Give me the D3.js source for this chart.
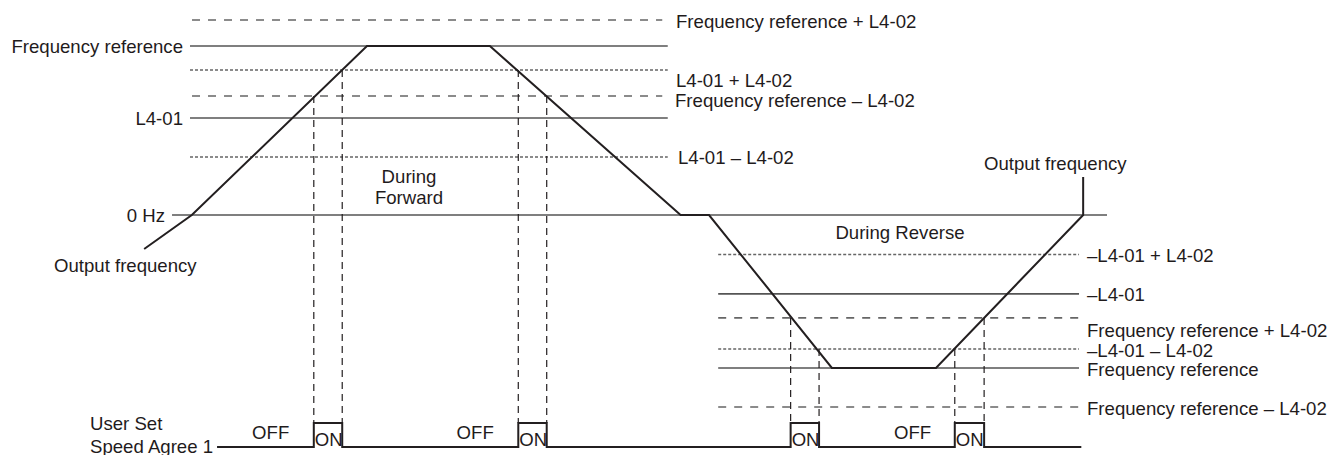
<!DOCTYPE html>
<html><head><meta charset="utf-8">
<script src="https://cdn.jsdelivr.net/npm/d3@7"></script>
<style>
body{margin:0;background:#fff}
svg{display:block;background:#fff}
text{font-family:"Liberation Sans",Arial,Helvetica,sans-serif;font-size:18.6px;fill:#1f1b1c}
</style>
</head><body>
<svg id="chart" width="1334" height="455"></svg>
<script>
// ---------------- DATA ----------------
// reference levels (value in % of forward frequency reference)
const levelKeys   = ["frPlus","fr","l1Plus","frMinus","l1","l1Minus","zero","rl1Plus","rl1","rfrPlus","rl1Minus","rfr","rfrMinus"];
const levelValues = [115.4, 100, 85.8, 70.4, 57.4, 34.3, 0, -23.4, -46.7, -60.9, -79.3, -90.5, -113.6];
const levelTexts  = ["Frequency reference + L4-02","Frequency reference","L4-01 + L4-02","Frequency reference \u2013 L4-02","L4-01","L4-01 \u2013 L4-02","0 Hz",
                     "\u2013L4-01 + L4-02","\u2013L4-01","Frequency reference + L4-02","\u2013L4-01 \u2013 L4-02","Frequency reference","Frequency reference \u2013 L4-02"];
// output frequency trace (time in % of chart span, value in %)
const outTimes  = [-5.0, 0.2, 19.3, 32.7, 53.5, 56.6, 70.0, 81.35, 97.4, 97.4];
const outValues = [-20.1, 0, 100, 100, 0, 0, -90.5, -90.5, 0, 22.5];
// User Set Speed Agree 1 ON windows
const onStart = [13.5, 35.8, 65.5, 83.4];
const onEnd   = [16.6, 38.9, 68.6, 86.6];
const onStartLevel = ["frMinus","l1Plus","rfrPlus","rl1Minus"];
const onEndLevel   = ["l1Plus","frMinus","rl1Minus","rfrPlus"];
const offTimes = [8.8, 31.1, 78.8];
const signalSpan = [2.95, 97.2];

// ---------------- LAYOUT ----------------
const svg = d3.select("#chart");
const x = d3.scaleLinear().domain([0,100]).range([190,1107]);
const y = d3.scaleLinear().domain([0,100]).range([215,46]);
const ys = d3.scaleLinear().domain([0,1]).range([447,423]);
const lv = Object.fromEntries(levelKeys.map((k,i)=>[k,levelValues[i]]));
const lt = Object.fromEntries(levelKeys.map((k,i)=>[k,levelTexts[i]]));

const styleOf = {frPlus:"dashed",fr:"solid",l1Plus:"dotted",frMinus:"dashed",l1:"solid",l1Minus:"dotted",zero:"solid",
  rl1Plus:"dotted",rl1:"solid",rfrPlus:"dashed",rl1Minus:"dotted",rfr:"solid",rfrMinus:"dashed"};
const dash = {solid:null, dashed:"8,8", dotted:"3,2"};
const fwdKeys = ["frPlus","fr","l1Plus","frMinus","l1","l1Minus"];
const extent = k => k==="zero" ? [-1.96,100] :
  fwdKeys.includes(k) ? (styleOf[k]==="dashed" ? [0.22,51.5] : [0,52.1]) : [57.6,96.95];

const gLines = svg.append("g");
levelKeys.forEach(k=>{
  const [a,b] = extent(k);
  gLines.append("line")
    .attr("x1",x(a)).attr("x2",x(b))
    .attr("y1",y(lv[k])).attr("y2",y(lv[k]))
    .attr("stroke", styleOf[k]==="solid" ? "#555" : "#666")
    .attr("stroke-width",1.6)
    .attr("stroke-dasharray",dash[styleOf[k]]);
});

// vertical dashed guides
onStart.forEach((t,i)=>{
  [[t,onStartLevel[i]],[onEnd[i],onEndLevel[i]]].forEach(([tt,k])=>{
    svg.append("line")
      .attr("x1",x(tt)).attr("x2",x(tt))
      .attr("y1",y(lv[k])).attr("y2",ys(1))
      .attr("stroke","#231f20").attr("stroke-width",1.2)
      .attr("stroke-dasharray","7,5");
  });
});

// output frequency
const pts = outTimes.map((t,i)=>[x(t),y(outValues[i])]);
svg.append("path").attr("d",d3.line()(pts))
  .attr("fill","none").attr("stroke","#231f20").attr("stroke-width",2);

// signal
const sig = [[signalSpan[0],0]];
onStart.forEach((t,i)=>{ sig.push([t,0],[t,1],[onEnd[i],1],[onEnd[i],0]); });
sig.push([signalSpan[1],0]);
svg.append("path").attr("d",d3.line().x(d=>x(d[0])).y(d=>ys(d[1]))(sig))
  .attr("fill","none").attr("stroke","#231f20").attr("stroke-width",2);
onStart.forEach(t=>{
  svg.append("text").attr("x",x(t)+1).attr("y",ys(0)-1.5).text("ON");
});
offTimes.forEach(t=>{
  svg.append("text").attr("x",x(t)).attr("y",ys(0.62)).attr("dy","0.35em").attr("text-anchor","middle").text("OFF");
});

// labels
const lab = (tx,xx,yy,anchor)=>svg.append("text").attr("x",xx).attr("y",yy).attr("dy","0.35em")
  .attr("text-anchor",anchor||"start").text(tx);
lab(lt.fr, 183, y(lv.fr), "end");
lab(lt.l1, 183, y(lv.l1), "end");
lab(lt.zero, 165, y(lv.zero), "end");
lab(lt.frPlus, 676, y(lv.frPlus)+2);
lab(lt.l1Plus, 676, y(lv.l1Plus)+10);
lab(lt.frMinus, 675, y(lv.frMinus)+4);
lab(lt.l1Minus, 678, y(lv.l1Minus));
lab(lt.rl1Plus, 1087, y(lv.rl1Plus)+1);
lab(lt.rl1, 1087, y(lv.rl1)+1);
lab(lt.rfrPlus, 1087, y(lv.rfrPlus)+13);
lab(lt.rl1Minus, 1087, y(lv.rl1Minus)+1);
lab(lt.rfr, 1087, y(lv.rfr)+2);
lab(lt.rfrMinus, 1087, y(lv.rfrMinus)+2);

lab("During", 409, 176, "middle");
lab("Forward", 409, 197, "middle");
lab("During Reverse", 900, 232, "middle");
lab("Output frequency", 54, 265);
lab("Output frequency", 984, 163);
lab("User Set", 90, 423);
lab("Speed Agree 1", 90, 446);
</script>
</body></html>
